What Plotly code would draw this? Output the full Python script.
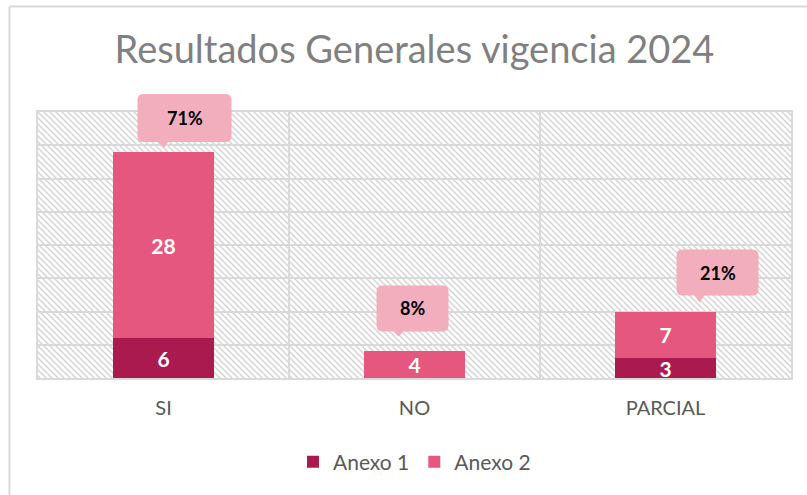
import base64
import plotly.graph_objects as go

# ---------------- data ----------------
categories = ["SI", "NO", "PARCIAL"]
anexo1 = [6, 0, 3]
anexo2 = [28, 4, 7]
series_names = ["Anexo 1", "Anexo 2"]
title_text = "Resultados Generales vigencia 2024"
y_max = 40
y_step = 5

totals = [a + b for a, b in zip(anexo1, anexo2)]
grand_total = sum(totals)
pct_labels = [f"{round(100 * t / grand_total)}%" for t in totals]

# ---------------- style ----------------
C_A1 = "#AB1A4E"
C_A2 = "#E5577E"
C_CALLOUT = "#F2AEBC"
C_GRID = "#D9D9D9"
C_TEXT = "#595959"
C_TITLE = "#808080"
FONT = "Lato"

W, H = 807, 495
M_L, M_R, M_T, M_B = 38, 16, 112, 117
PW, PH = W - M_L - M_R, H - M_T - M_B

# callout geometry in pixels relative to (bar centre, bar top): dx0, dx1, up0, up1, tip_dx, tip_up
callout_geom = [
    (-26, 68, 10, 58, 0, 4),
    (-38, 34, 20, 66, -16, 15),
    (11, 93, 16, 62, 34, 9),
]

fig = go.Figure()
for vals, name, col in ((anexo1, series_names[0], C_A1), (anexo2, series_names[1], C_A2)):
    fig.add_trace(go.Bar(
        x=categories, y=vals, name=name, marker=dict(color=col, line=dict(width=0)),
        text=[str(v) if v else "" for v in vals], textposition="inside", insidetextanchor="middle",
        textangle=0, constraintext="none",
        textfont=dict(color="white", size=21, family=FONT, weight="bold"),
    ))

# hatch background as inline svg
svg = (
    f'<svg xmlns="http://www.w3.org/2000/svg" width="{PW}" height="{PH}">'
    '<defs><pattern id="p" width="6" height="6" patternUnits="userSpaceOnUse">'
    '<path d="M-1,-1 L7,7 M-1,5 L1,7 M5,-1 L7,1" stroke="#D3D3D3" stroke-width="1.4"/>'
    '</pattern></defs>'
    f'<rect width="{PW}" height="{PH}" fill="white"/>'
    f'<rect width="{PW}" height="{PH}" fill="url(#p)"/></svg>'
)
src = "data:image/svg+xml;base64," + base64.b64encode(svg.encode()).decode()
fig.add_layout_image(dict(source=src, xref="x domain", yref="y domain", x=0, y=1,
                          sizex=1, sizey=1, sizing="stretch", xanchor="left", yanchor="top",
                          layer="below"))


def callout_path(dx0, dx1, up0, up1, tx, tup, r=6, hw=5):
    return (
        f"M{dx0 + r},{up1} L{dx1 - r},{up1} Q{dx1},{up1} {dx1},{up1 - r} "
        f"L{dx1},{up0 + r} Q{dx1},{up0} {dx1 - r},{up0} "
        f"L{tx + hw},{up0} L{tx},{tup} L{tx - hw},{up0} "
        f"L{dx0 + r},{up0} Q{dx0},{up0} {dx0},{up0 + r} "
        f"L{dx0},{up1 - r} Q{dx0},{up1} {dx0 + r},{up1} Z"
    )


n = len(categories)
for i, (cat, tot, lab, g) in enumerate(zip(categories, totals, pct_labels, callout_geom)):
    dx0, dx1, up0, up1, tx, tup = g
    # anchor = bar centre / bar top expressed in axis-domain fractions (unclipped)
    ax_frac = (i + 0.5) / n
    ay_frac = tot / y_max
    fig.add_shape(type="path", xref="x domain", yref="y domain", xsizemode="pixel", ysizemode="pixel",
                  xanchor=ax_frac, yanchor=ay_frac, path=callout_path(*g),
                  fillcolor=C_CALLOUT, line=dict(width=0), layer="above")
    fig.add_annotation(x=cat, y=tot, xref="x", yref="y", text=lab, showarrow=False,
                       xshift=(dx0 + dx1) / 2, yshift=(up0 + up1) / 2,
                       font=dict(family=FONT, size=18, color="black", weight="bold"))

# outer frame (left and top edges visible)
fig.add_shape(type="line", xref="paper", yref="paper",
              x0=(9.5 - M_L) / PW, x1=(9.5 - M_L) / PW,
              y0=(M_T + PH - H - 5) / PH, y1=(M_T + PH - 6.5) / PH,
              line=dict(color=C_GRID, width=2))
fig.add_shape(type="line", xref="paper", yref="paper",
              x0=(9.5 - M_L) / PW, x1=(W + 5 - M_L) / PW,
              y0=(M_T + PH - 6.5) / PH, y1=(M_T + PH - 6.5) / PH,
              line=dict(color=C_GRID, width=2))

fig.update_layout(
    width=W, height=H, margin=dict(l=M_L, r=M_R, t=M_T, b=M_B),
    barmode="stack", bargap=0.6,
    paper_bgcolor="white", plot_bgcolor="white",
    title=dict(text=title_text, x=0.5, xanchor="center", xref="paper",
               y=1 - 50 / H, yanchor="middle", yref="container",
               font=dict(family=FONT, size=38, color=C_TITLE)),
    legend=dict(orientation="h", x=0.5, xanchor="center", y=(M_T + PH - 462) / PH, yanchor="middle",
                font=dict(family=FONT, size=21, color=C_TEXT), traceorder="normal"),
    uniformtext=dict(minsize=21, mode="show"),
    showlegend=True,
)
fig.update_xaxes(tickson="boundaries", showgrid=True, gridcolor=C_GRID, gridwidth=2,
                 showline=True, mirror=True, linecolor=C_GRID, linewidth=2,
                 ticks="", ticklabelstandoff=11,
                 tickfont=dict(family=FONT, size=20, color=C_TEXT))
fig.update_yaxes(range=[0, y_max], dtick=y_step, showgrid=True, gridcolor=C_GRID, gridwidth=2,
                 showline=True, mirror=True, linecolor=C_GRID, linewidth=2,
                 showticklabels=False, zeroline=False, ticks="")

fig.write_html("out.html")
